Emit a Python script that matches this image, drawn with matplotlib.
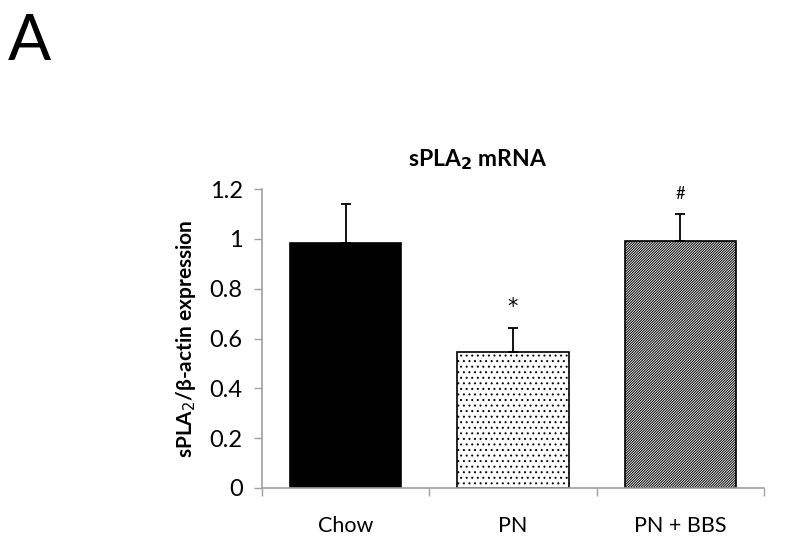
import matplotlib
matplotlib.use("Agg")
import matplotlib.pyplot as plt
import numpy as np

categories = ["Chow", "PN", "PN + BBS"]
values = [0.983, 0.546, 0.991]
errors = [0.157, 0.096, 0.110]
annotations = ["", "*", "#"]
yticks = [0, 0.2, 0.4, 0.6, 0.8, 1.0, 1.2]
ytick_labels = ["0", "0.2", "0.4", "0.6", "0.8", "1", "1.2"]

plt.rcParams['font.family'] = ['Lato', 'DejaVu Sans']
plt.rcParams['hatch.linewidth'] = 0.7

fig = plt.figure(figsize=(8, 5.42), dpi=100)
ax = fig.add_axes([262/800, 1-488/542, (764-262)/800, (488-189)/542])

x = np.arange(len(categories))
faces = ["black", "white", "white"]
hatches = [None, "...", "/////////////"]
for i in range(len(categories)):
    ax.bar(x[i], values[i], width=0.667, color=faces[i], edgecolor="black",
           hatch=hatches[i], linewidth=1.2, zorder=2)
ax.errorbar(x, values, yerr=[np.zeros(len(values)), errors], fmt="none",
            ecolor="black", elinewidth=1.3, capsize=3.5, capthick=1.3, zorder=3)
for i, a in enumerate(annotations):
    if a:
        ax.text(x[i], values[i] + errors[i] + 0.045, a, ha="center", va="bottom",
                fontsize=15 if a == "*" else 12, color="black",
                family="DejaVu Sans" if a == "*" else "Lato")

ax.set_xlim(-0.5, 2.5)
ax.set_ylim(0, 1.2)
ax.set_yticks(yticks)
ax.set_yticklabels(ytick_labels, fontsize=17)
ax.set_xticks([-0.5, 0.5, 1.5, 2.5])
ax.set_xticklabels([])
ax.set_xticks(x, minor=True)
ax.set_xticklabels(categories, minor=True, fontsize=15.5)
ax.tick_params(axis="x", which="minor", length=0, pad=20)
ax.tick_params(axis="x", which="major", length=6, color="#A0A0A0", width=1)
ax.tick_params(axis="y", length=6, color="#A0A0A0", width=1, pad=8)
for s in ["top", "right"]:
    ax.spines[s].set_visible(False)
for s in ["left", "bottom"]:
    ax.spines[s].set_color("#A0A0A0")
    ax.spines[s].set_linewidth(1.2)

ax.set_ylabel("sPLA$_2$/β-actin expression", fontsize=15, fontweight="bold", labelpad=8)
fig.text(478/800, 1-160/542, r"sPLA$_\mathbf{2}$ mRNA", ha="center", va="center",
         fontsize=16.5, fontweight="bold")
fig.text(8/800, 1-42/542, "A", ha="left", va="center", fontsize=46)

fig.savefig("out.png", dpi=100)
